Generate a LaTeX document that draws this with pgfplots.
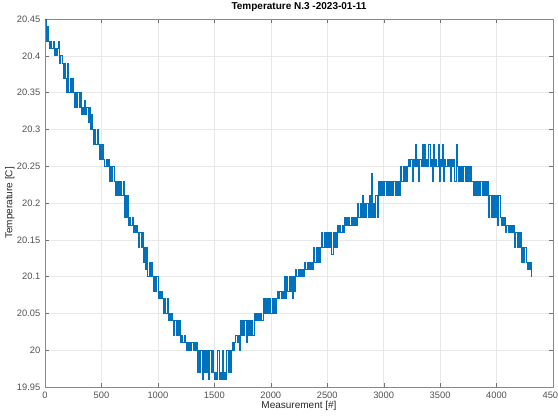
\documentclass[border=0pt]{standalone}
\usepackage{pgfplots}
\pgfplotsset{compat=1.18}
\usepackage{fontspec}
\setmainfont{Liberation Sans}
\definecolor{mblue}{HTML}{0072BD}
\definecolor{maxis}{HTML}{262626}
\begin{document}
\begin{tikzpicture}
\begin{axis}[
  at={(0,0)}, anchor=south west,
  scale only axis, width=381pt, height=276pt,
  xmin=0, xmax=4500, ymin=19.95, ymax=20.45,
  xtick={0,500,...,4500},
  ytick={19.95,20,20.05,20.1,20.15,20.2,20.25,20.3,20.35,20.4,20.45},
  yticklabel style={/pgf/number format/.cd, fixed, precision=2},
  xticklabel style={/pgf/number format/.cd, fixed, 1000 sep={}},
  /pgf/number format/assume math mode=true,
  scaled y ticks=false, scaled x ticks=false,
  tick label style={font=\fontsize{7}{8}\selectfont, text=maxis!80},
  label style={font=\fontsize{7.5}{9}\selectfont, text=maxis},
  title style={font=\bfseries\fontsize{7.5}{9}\selectfont, text=black, yshift=-4pt},
  title={Temperature N.3 -2023-01-11},
  xlabel={Measurement [\#]}, ylabel={Temperature [C]},
  xlabel style={yshift=5pt}, ylabel style={yshift=-5pt},
  axis line style={maxis!55},
  major tick length=3pt,
  tick style={maxis!65},
  grid=major, major grid style={gray!18, line width=0.4pt},
]
\addplot[mblue, line width=0.5pt, const plot] coordinates {
(0,20.45)(10,20.42)(20,20.44)(30,20.42)
(40,20.41)(50,20.42)(60,20.41)(70,20.42)
(80,20.40)(90,20.41)(100,20.40)(110,20.41)(120,20.42)
(130,20.39)(140,20.40)(150,20.39)
(160,20.37)(170,20.39)(180,20.37)(190,20.35)(200,20.39)
(210,20.35)(220,20.37)(230,20.35)(240,20.37)(250,20.35)
(260,20.33)(270,20.35)(280,20.33)(290,20.35)(300,20.33)(310,20.35)
(320,20.32)(330,20.33)(340,20.32)(350,20.34)(360,20.32)(370,20.33)(380,20.31)(390,20.33)
(400,20.30)(410,20.32)(420,20.30)
(430,20.28)(440,20.30)(450,20.28)(460,20.30)(470,20.28)
(480,20.26)(490,20.28)(500,20.26)(510,20.28)(520,20.26)
(530,20.25)(540,20.26)(550,20.25)(560,20.26)
(570,20.23)(580,20.25)(590,20.23)(600,20.25)(610,20.23)
(620,20.21)(630,20.23)(640,20.21)(650,20.23)(660,20.21)(670,20.23)(680,20.21)(690,20.23)
(700,20.18)(710,20.21)(720,20.18)(730,20.21)
(740,20.17)(750,20.18)(760,20.17)(770,20.18)
(780,20.16)(790,20.17)(800,20.16)(810,20.17)(820,20.16)
(830,20.14)(840,20.16)(850,20.14)(860,20.16)
(870,20.12)(880,20.14)(890,20.11)(900,20.14)
(910,20.10)(920,20.12)(930,20.10)(940,20.12)(950,20.10)
(960,20.08)(970,20.10)(980,20.08)(990,20.10)
(1000,20.07)(1010,20.08)(1020,20.07)(1030,20.08)(1040,20.07)
(1050,20.05)(1060,20.07)(1070,20.05)(1080,20.07)
(1090,20.04)(1100,20.05)(1110,20.04)(1120,20.05)(1130,20.04)
(1140,20.02)(1150,20.04)(1160,20.02)(1170,20.04)(1180,20.02)(1190,20.04)
(1200,20.01)(1210,20.02)(1220,20.01)(1230,20.02)(1240,20.01)
(1250,20.00)(1260,20.01)(1270,20.00)(1280,20.01)(1290,20.00)(1300,20.01)(1310,20.00)(1320,20.01)(1330,20.00)(1340,20.01)
(1350,19.97)(1360,20.00)(1370,19.97)(1380,20.00)(1390,19.96)(1400,20.00)(1410,19.97)(1420,20.00)(1430,19.97)(1440,20.00)(1450,19.96)(1460,20.00)(1470,19.97)(1480,20.00)(1490,19.97)
(1500,19.96)(1510,19.97)(1520,19.96)(1530,20.00)(1540,19.96)(1550,19.97)(1560,19.96)(1570,20.00)(1580,19.96)(1590,19.97)(1600,19.96)
(1610,20.00)(1620,19.97)(1630,20.00)(1640,19.97)(1650,20.00)
(1660,20.01)(1670,20.00)(1680,20.01)
(1690,20.02)(1700,20.01)(1710,20.02)(1720,20.00)
(1730,20.04)(1740,20.02)(1750,20.04)(1760,20.02)(1770,20.04)(1780,20.01)(1790,20.04)(1800,20.02)(1810,20.04)(1820,20.02)(1830,20.04)(1840,20.02)
(1850,20.05)(1860,20.04)(1870,20.05)(1880,20.04)(1890,20.05)(1900,20.04)(1910,20.05)(1920,20.04)
(1930,20.07)(1940,20.05)(1950,20.07)(1960,20.05)(1970,20.07)(1980,20.05)(1990,20.07)(2000,20.05)(2010,20.07)(2020,20.05)(2030,20.07)(2040,20.05)(2050,20.07)
(2060,20.08)(2070,20.07)(2080,20.08)(2090,20.07)(2100,20.08)(2110,20.07)(2120,20.10)(2130,20.07)
(2140,20.10)(2150,20.08)(2160,20.10)(2170,20.08)(2180,20.10)(2190,20.07)(2200,20.10)(2210,20.08)
(2220,20.11)(2230,20.10)(2240,20.11)(2250,20.10)(2260,20.11)(2270,20.10)(2280,20.11)(2290,20.10)
(2300,20.12)(2310,20.11)(2320,20.12)(2330,20.11)(2340,20.12)(2350,20.11)(2360,20.12)(2370,20.11)
(2380,20.14)(2390,20.12)(2400,20.14)(2410,20.12)(2420,20.14)(2430,20.12)(2440,20.14)
(2450,20.16)(2460,20.14)(2470,20.16)(2480,20.14)(2490,20.16)(2500,20.14)(2510,20.16)(2520,20.14)(2530,20.16)(2540,20.13)(2550,20.16)(2560,20.14)(2570,20.16)(2580,20.14)
(2590,20.17)(2600,20.16)(2610,20.17)(2620,20.16)(2630,20.17)(2640,20.16)
(2650,20.18)(2660,20.17)(2670,20.18)(2680,20.17)(2690,20.18)(2700,20.17)(2710,20.18)(2720,20.17)(2730,20.18)(2740,20.17)(2750,20.18)(2760,20.17)
(2770,20.20)(2780,20.18)(2790,20.20)(2800,20.18)(2810,20.21)(2820,20.18)(2830,20.20)(2840,20.18)(2850,20.20)(2860,20.18)(2870,20.21)(2880,20.18)(2890,20.24)(2900,20.18)(2910,20.20)(2920,20.18)(2930,20.21)(2940,20.18)
(2950,20.23)(2960,20.21)(2970,20.23)(2980,20.21)(2990,20.23)(3000,20.21)(3010,20.23)(3020,20.21)(3030,20.23)(3040,20.21)(3050,20.23)(3060,20.21)(3070,20.23)(3080,20.21)(3090,20.23)(3100,20.21)(3110,20.23)(3120,20.21)(3130,20.23)(3140,20.21)
(3150,20.25)(3160,20.23)(3170,20.25)(3180,20.23)(3190,20.25)(3200,20.23)(3210,20.25)
(3220,20.26)(3230,20.25)(3240,20.26)(3250,20.23)(3260,20.26)(3270,20.25)(3280,20.28)(3290,20.25)(3300,20.26)(3310,20.23)(3320,20.26)(3330,20.25)(3340,20.28)(3350,20.25)(3360,20.28)(3370,20.25)(3380,20.26)(3390,20.25)(3400,20.28)(3410,20.25)(3420,20.26)(3430,20.23)(3440,20.28)(3450,20.25)(3460,20.26)(3470,20.25)(3480,20.28)(3490,20.23)(3500,20.26)(3510,20.25)(3520,20.28)(3530,20.23)(3540,20.26)(3550,20.25)(3560,20.26)(3570,20.25)(3580,20.26)(3590,20.23)(3600,20.26)(3610,20.25)(3620,20.26)(3630,20.23)(3640,20.28)(3650,20.25)
(3660,20.23)(3670,20.25)(3680,20.23)(3690,20.25)(3700,20.23)(3710,20.25)(3720,20.23)(3730,20.25)(3740,20.23)(3750,20.25)(3760,20.23)(3770,20.25)(3780,20.23)
(3790,20.21)(3800,20.23)(3810,20.21)(3820,20.23)(3830,20.21)(3840,20.23)(3850,20.21)(3860,20.23)(3870,20.21)(3880,20.23)(3890,20.21)(3900,20.23)(3910,20.21)(3920,20.23)
(3930,20.18)(3940,20.21)(3950,20.18)(3960,20.21)(3970,20.18)(3980,20.21)(3990,20.18)(4000,20.21)(4010,20.17)(4020,20.21)(4030,20.18)
(4040,20.17)(4050,20.18)(4060,20.17)(4070,20.18)
(4080,20.16)(4090,20.17)(4100,20.16)(4110,20.17)(4120,20.16)(4130,20.17)(4140,20.16)(4150,20.17)
(4160,20.14)(4170,20.16)(4180,20.14)(4190,20.16)(4200,20.14)(4210,20.16)
(4220,20.12)(4230,20.14)(4240,20.12)(4250,20.14)(4260,20.12)
(4270,20.11)(4280,20.12)(4290,20.11)(4300,20.12)(4310,20.10)
};
\end{axis}
\pgfresetboundingbox
\path (-33.75pt,-21.75pt) rectangle (384.75pt,290.25pt);
\end{tikzpicture}
\end{document}
